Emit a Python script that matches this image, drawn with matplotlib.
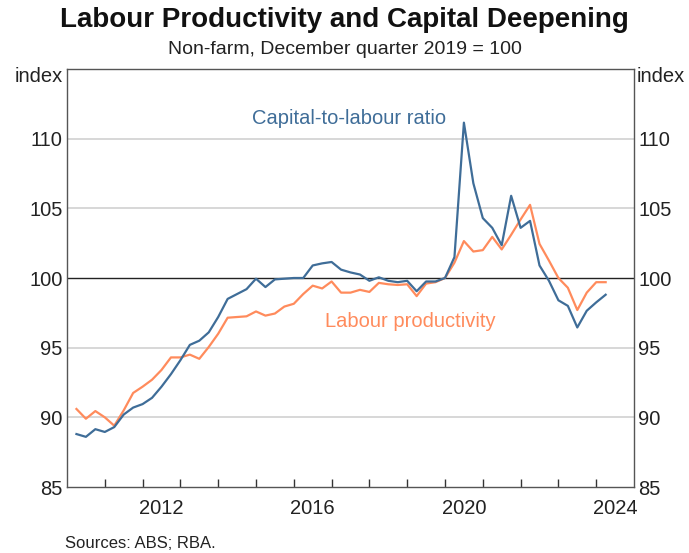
import matplotlib
matplotlib.use("Agg")
import matplotlib.pyplot as plt
import numpy as np

plt.rcParams['font.family'] = ['Liberation Sans', 'DejaVu Sans']

# quarterly, March quarter 2010 to March quarter 2024 (plotted at quarter end)
start_year = 2010.25
capital_labour = [88.8, 88.6, 89.15, 88.95, 89.3, 90.2, 90.7, 90.95, 91.4, 92.2,
                  93.1, 94.1, 95.2, 95.5, 96.1, 97.2, 98.5, 98.85, 99.2, 99.95,
                  99.35, 99.9, 99.95, 100.0, 100.0, 100.9, 101.05, 101.15, 100.6, 100.4,
                  100.25, 99.8, 100.05, 99.8, 99.7, 99.8, 99.05, 99.75, 99.75, 100.0,
                  101.5, 111.15, 106.8, 104.3, 103.6, 102.35, 105.9, 103.6, 104.1, 100.9,
                  99.8, 98.4, 98.0, 96.45, 97.65, 98.25, 98.8]
labour_prod = [90.6, 89.9, 90.45, 90.0, 89.4, 90.5, 91.75, 92.2, 92.7, 93.4,
               94.3, 94.3, 94.5, 94.2, 95.05, 96.0, 97.15, 97.2, 97.25, 97.6,
               97.3, 97.45, 97.95, 98.15, 98.85, 99.45, 99.25, 99.75, 98.95, 98.95,
               99.15, 99.0, 99.65, 99.55, 99.5, 99.55, 98.7, 99.6, 99.7, 100.0,
               101.1, 102.65, 101.9, 102.0, 102.95, 102.05, 103.1, 104.2, 105.25, 102.45,
               101.25, 100.0, 99.3, 97.7, 98.95, 99.7, 99.7]
year_labels = ['2012', '2016', '2020', '2024']
y_ticks = [85, 90, 95, 100, 105, 110]

x = start_year + 0.25 * np.arange(len(capital_labour))

BLUE = '#3F6D98'
ORANGE = '#FF8B5C'
TXT = '#222222'
FS = 14.5

fig = plt.figure(figsize=(6.89, 5.53), dpi=100)
ax = fig.add_axes([67/689, 1-487/553, (634-67)/689, (487-69)/553])

for yv in [90, 95, 105, 110]:
    ax.axhline(yv, color='#d4d4d4', lw=1.3, zorder=1)
ax.axhline(100, color='#222222', lw=1.0, zorder=2)

ax.plot(x, labour_prod, color=ORANGE, lw=1.6, zorder=3)
ax.plot(x, capital_labour, color=BLUE, lw=1.6, zorder=4)

ax.set_xlim(2010, 2025)
ax.set_ylim(85, 115)

ax.set_xticks(np.arange(2011, 2025))
ax.set_xticklabels([])
ax.set_xticks([int(l) + 0.5 for l in year_labels], minor=True)
ax.set_xticklabels(year_labels, minor=True)
ax.tick_params(axis='x', which='major', direction='in', length=6, width=1, color='#333333')
ax.tick_params(axis='x', which='minor', length=0, labelsize=FS, pad=9, labelcolor=TXT)

ax.set_yticks(y_ticks)
ax.tick_params(axis='y', which='both', length=0, labelsize=FS, labelleft=True,
               labelright=True, pad=3, labelcolor=TXT)

for s in ax.spines.values():
    s.set_color('#555555')
    s.set_linewidth(1.0)

ax.text(2017.47, 111.45, 'Capital-to-labour ratio', color=BLUE, fontsize=FS,
        ha='center', va='center')
ax.text(2019.09, 96.88, 'Labour productivity', color=ORANGE, fontsize=FS,
        ha='center', va='center')

fig.text(344.5/689, 1-20/553, 'Labour Productivity and Capital Deepening', ha='center',
         va='center', fontsize=20, fontweight='bold', color='#111111')
fig.text(0.5, 1-49/553, 'Non-farm, December quarter 2019 = 100', ha='center',
         va='center', fontsize=14, color=TXT)
fig.text(63/689, 1-77/553, 'index', ha='right', va='center', fontsize=FS, color=TXT)
fig.text(637/689, 1-77/553, 'index', ha='left', va='center', fontsize=FS, color=TXT)
fig.text(65/689, 1-543/553, 'Sources: ABS; RBA.', ha='left', va='center', fontsize=12,
         color=TXT)

fig.savefig('out.png', dpi=100)
